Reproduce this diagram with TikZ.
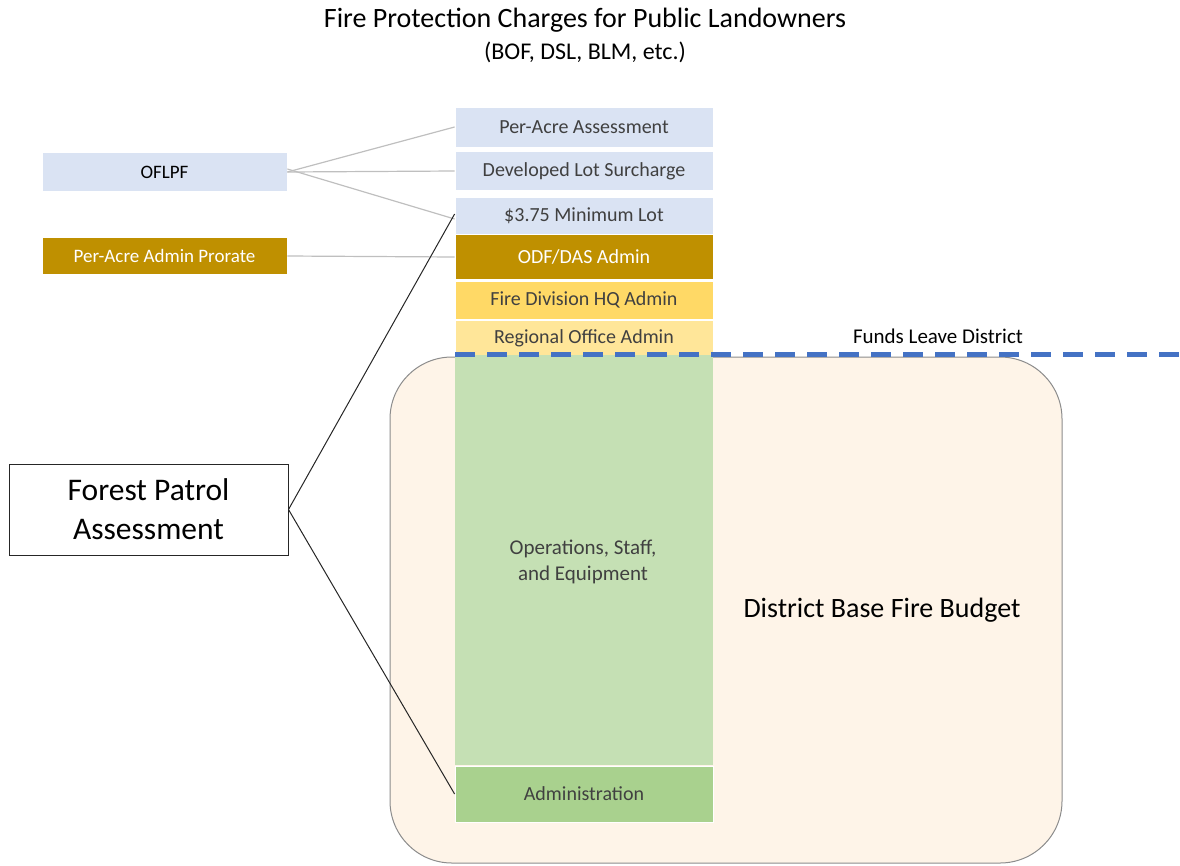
\documentclass[tikz,border=0pt]{standalone}
\usepackage{fontspec}
\setmainfont{Carlito}
\definecolor{lblue}{HTML}{DAE3F3}
\definecolor{dgold}{HTML}{BF9000}
\definecolor{mgold}{HTML}{FFD966}
\definecolor{lgold}{HTML}{FFE699}
\definecolor{lgreen}{HTML}{C5E0B4}
\definecolor{mgreen}{HTML}{A9D18E}
\definecolor{cream}{HTML}{FEF4E8}
\definecolor{txt}{HTML}{404040}
\definecolor{dblue}{HTML}{4472C4}
\tikzset{
  bar/.style={draw=white, line width=0.8pt, minimum width=258pt, inner sep=0pt, text=txt, font=\fontsize{20}{24}\selectfont},
  sidebox/.style={draw=white, line width=0.8pt, minimum width=245pt, inner sep=0pt, font=\fontsize{19}{23}\selectfont},
  glink/.style={draw=black!25, line width=1.2pt},
  blink/.style={draw=black!85, line width=1pt}
}
\begin{document}
\begin{tikzpicture}[x=1pt,y=-1pt]
\useasboundingbox (0,0) rectangle (1180,865);
% district budget area
\node[draw=black!45, line width=1pt, fill=cream, rounded corners=62pt, minimum width=672pt, minimum height=506pt, inner sep=0pt] (budget) at (726,610) {};
\node[font=\fontsize{28}{34}\selectfont] (budgettxt) at (882,610) {District Base Fire Budget};
% title
\node[font=\fontsize{28}{34}\selectfont] (title) at (585,20) {Fire Protection Charges for Public Landowners};
\node[font=\fontsize{24}{29}\selectfont] (subtitle) at (585,52) {(BOF, DSL, BLM, etc.)};
% stack
\node[bar, fill=lblue, minimum height=40pt] (pa) at (584,127) {Per-Acre Assessment};
\node[bar, fill=lblue, minimum height=39pt] (dl) at (584,171) {Developed Lot Surcharge};
\node[bar, fill=lblue, minimum height=37pt] (ml) at (584,216) {\$3.75 Minimum Lot};
\node[bar, fill=dgold, minimum height=45pt, text=white] (odf) at (584,257) {ODF/DAS Admin};
\node[bar, fill=mgold, minimum height=38pt] (fd) at (584,300) {Fire Division HQ Admin};
\node[bar, fill=lgold, minimum height=36pt] (ro) at (584,338) {Regional Office Admin};
\node[bar, fill=lgreen, minimum height=410pt, draw=none] (ops) at (584,560) {};
\node[text=txt, font=\fontsize{21}{26}\selectfont, align=center] (opstxt) at (583,562) {Operations, Staff,\\and Equipment};
\node[bar, fill=mgreen, minimum height=56pt] (adm) at (584,794) {Administration};
% side boxes
\node[sidebox, fill=lblue, minimum height=39pt] (oflpf) at (164.5,172) {OFLPF};
\node[sidebox, fill=dgold, minimum height=37pt, text=white] (pap) at (164.5,256) {Per-Acre Admin Prorate};
\node[draw=black!85, line width=1pt, fill=white, minimum width=279pt, minimum height=91pt, align=center, inner sep=0pt, font=\fontsize{31.5}{39}\selectfont] (fpa) at (148.5,509.5) {Forest Patrol\\Assessment};
% connectors
\draw[glink] (oflpf.east) -- (pa.west);
\draw[glink] (oflpf.east) -- (dl.west);
\draw[glink] ([yshift=3pt]oflpf.east) -- ([yshift=-3pt]ml.west);
\draw[glink] (pap.east) -- (odf.west);
\draw[blink] (fpa.east) -- ([yshift=2pt]ml.west);
\draw[blink] (fpa.east) -- (adm.west);
% funds leave district
\coordinate (dashA) at (455,354);
\coordinate (dashB) at (1180,354);
\draw[dblue, line width=5pt, dash pattern=on 20pt off 12pt] (dashA) -- (dashB);
\node[font=\fontsize{21}{25}\selectfont] (funds) at (938,336) {Funds Leave District};
\end{tikzpicture}
\end{document}
